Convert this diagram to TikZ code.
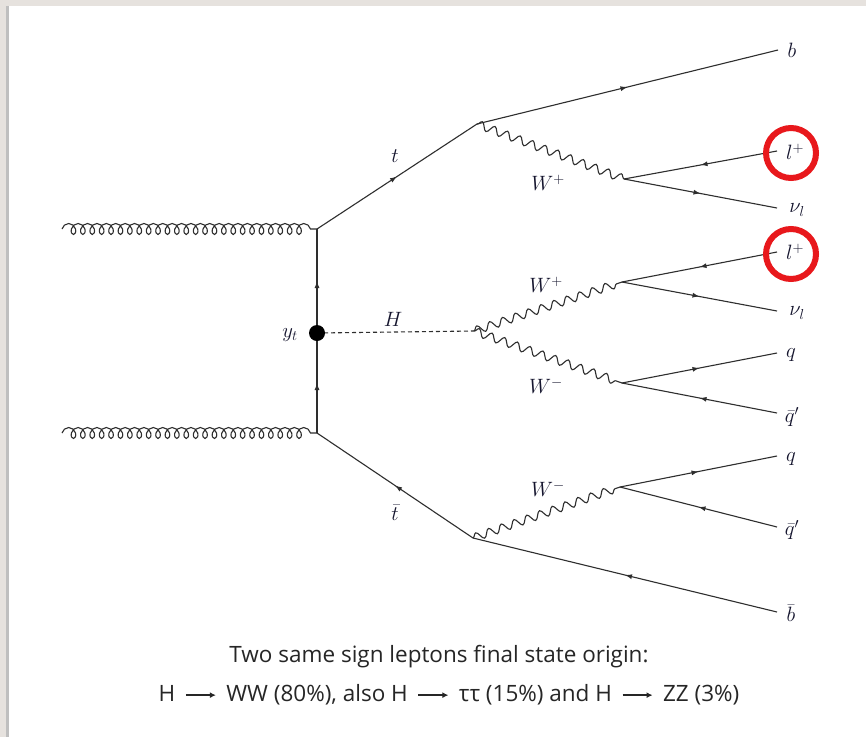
\documentclass[tikz,border=0pt]{standalone}
\usepackage{fontspec}
\newfontfamily\capfont{Open Sans}
\usetikzlibrary{decorations.pathmorphing,decorations.markings,arrows.meta}
\definecolor{ln}{HTML}{2E2E2E}
\definecolor{lab}{HTML}{15152E}
\definecolor{ringred}{HTML}{E8181C}
\definecolor{bggray}{HTML}{E6E2DE}
\newcommand{\capArrow}{\hspace{4pt}\tikz[baseline=-0.55ex]\draw[line width=1.4pt,-{Latex[length=6pt,width=6pt]}] (0pt,0pt) -- (30pt,0pt);\hspace{4pt}}
\begin{document}
\begin{tikzpicture}[x=1pt,y=-1pt,
  line/.style={draw=ln,line width=1.1pt},
  fermion/.style={line,postaction={decorate},decoration={markings,mark=at position 0.5 with {\arrow{Latex[length=7pt,width=5pt]}}}},
  gluon/.style={line,decorate,decoration={coil,aspect=0.8,amplitude=5.5pt,segment length=9.4pt}},
  wboson/.style={line,decorate,decoration={snake,amplitude=4pt,segment length=13.5pt}},
  scalar/.style={line,dashed,dash pattern=on 4pt off 3pt},
  lbl/.style={font=\fontsize{22}{26}\selectfont,text=lab,inner sep=0pt},
  ring/.style={draw=ringred,line width=6pt},
  captext/.style={font=\capfont\fontsize{22.5}{27}\selectfont,text=black!85,inner sep=0pt}]
\useasboundingbox (0,0) rectangle (866,737);
% page
\fill[bggray] (0,0) rectangle (866,737);
\fill[black!25] (6,6) rectangle (10,737);
\fill[white] (9,6) rectangle (866,737);
% vertices
\coordinate (vt) at (317,229);
\coordinate (vb) at (317,433);
\coordinate (vy) at (317,333);
\coordinate (vtop) at (477,124);
\coordinate (vh) at (474,331);
\coordinate (vbot) at (473,538);
\coordinate (wa) at (624,179);
\coordinate (wb) at (622,282);
\coordinate (wc) at (622,383);
\coordinate (wd) at (620,487);
\coordinate (gl1) at (62,229);
\coordinate (gl2) at (62,433);
\coordinate (eb) at (778,50);
\coordinate (el1) at (777,151);
\coordinate (enu1) at (777,208);
\coordinate (el2) at (777,252);
\coordinate (enu2) at (777,311);
\coordinate (eq1) at (777,353);
\coordinate (eqb1) at (777,413);
\coordinate (eq2) at (777,456);
\coordinate (eqb2) at (777,527);
\coordinate (ebb) at (777,612);
% gluons
\draw[gluon] (gl1) -- (vt);
\draw[gluon] (gl2) -- (vb);
% quark line
\draw[fermion] (vb) -- (vy);
\draw[fermion] (vy) -- (vt);
\draw[fermion] (vt) -- (vtop);
\draw[fermion] (vtop) -- (eb);
\draw[fermion] (vbot) -- (vb);
\draw[fermion] (ebb) -- (vbot);
% W bosons
\draw[wboson] (vtop) -- (wa);
\draw[wboson] (vh) -- (wb);
\draw[wboson] (vh) -- (wc);
\draw[wboson] (vbot) -- (wd);
% Higgs
\draw[scalar] (vy) -- (vh);
% decays
\draw[fermion] (el1) -- (wa);
\draw[fermion] (wa) -- (enu1);
\draw[fermion] (el2) -- (wb);
\draw[fermion] (wb) -- (enu2);
\draw[fermion] (wc) -- (eq1);
\draw[fermion] (eqb1) -- (wc);
\draw[fermion] (wd) -- (eq2);
\draw[fermion] (eqb2) -- (wd);
% Yukawa vertex
\node[circle,fill=black,minimum size=16pt,inner sep=0pt] (dot) at (vy) {};
% labels
\node[lbl] (lb) at (792,50) {$b$};
\node[lbl] (ll1) at (795,152) {$l^{+}$};
\node[lbl] (lnu1) at (797,210) {$\nu_l$};
\node[lbl] (ll2) at (795,252) {$l^{+}$};
\node[lbl] (lnu2) at (797,313) {$\nu_l$};
\node[lbl] (lq1) at (791,355) {$q$};
\node[lbl] (lqb1) at (792,417) {$\bar{q}'$};
\node[lbl] (lq2) at (791,459) {$q$};
\node[lbl] (lqb2) at (792,530) {$\bar{q}'$};
\node[lbl] (lbb) at (791,613) {$\bar{b}$};
\node[lbl] (lt) at (395,156) {$t$};
\node[lbl] (ltb) at (395,513) {$\bar{t}$};
\node[lbl] (lw1) at (548,183) {$W^{+}$};
\node[lbl] (lw2) at (546,285) {$W^{+}$};
\node[lbl] (lw3) at (546,386) {$W^{-}$};
\node[lbl] (lw4) at (548,489) {$W^{-}$};
\node[lbl] (lh) at (393,319) {$H$};
\node[lbl] (lyt) at (290,335) {$y_t$};
% red rings
\draw[ring] (ll1) ++(-4,1) circle[radius=25pt];
\draw[ring] (ll2) ++(-4,2) circle[radius=25pt];
% caption
\node[captext] (cap1) at (439,657) {Two same sign leptons final state origin:};
\node[captext] (cap2) at (449,695) {H \capArrow{} WW (80\%), also H \capArrow{} ττ (15\%) and H \capArrow{} ZZ (3\%)};
\end{tikzpicture}
\end{document}
